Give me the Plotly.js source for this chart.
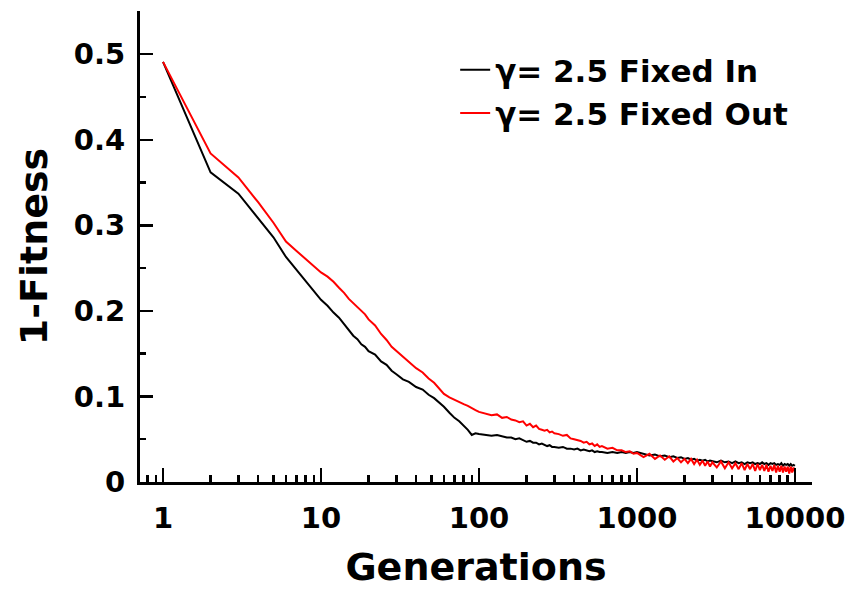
<!DOCTYPE html>
<html>
<head>
<meta charset="utf-8">
<script src="https://cdn.plot.ly/plotly-3.0.1.min.js"></script>
<style>html,body{margin:0;padding:0;background:#fff;}#chart{width:852px;height:590px;}</style>
</head>
<body>
<div id="chart"></div>
<script>
// Generations (x values)
const generations = [
  1,2,3,4,5,6,7,8,9,10,11,12,13,14,15,16,17,18,19,20,
  22,24,26,28,30,33,36,40,44,48,52,56,60,65,70,75,80,85,90,95,100,
  110,120,130,140,150,160,170,180,190,200,210,220,230,240,250,260,270,280,290,300,
  320,340,360,380,400,420,440,460,480,500,520,540,560,580,600,
  650,700,750,800,850,900,950,1000,
  1100,1200,1300,1400,1500,1600,1700,1800,1900,2000,2100,2200,2300,2400,2500,2600,2700,2800,2900,3000,
  3200,3400,3600,3800,4000,4200,4400,4600,4800,5000,5200,5400,5600,5800,6000,6200,6400,6600,6800,7000,
  7200,7400,7600,7800,8000,8200,8400,8600,8800,9000,9200,9400,9600,9800,10000
];

// 1-Fitness, gamma = 2.5 Fixed In (black)
const fixedIn = [
  0.491,0.362,0.337,0.308,0.286,0.263,0.248,0.234,0.223,0.213,0.206,0.198,0.192,0.184,0.177,0.171,0.167,0.161,0.158,0.153,
  0.149,0.141,0.137,0.130,0.126,0.120,0.117,0.111,0.108,0.102,0.098,0.093,0.088,0.081,0.075,0.071,0.066,0.061,0.055,0.057,0.056,
  0.055,0.054,0.055,0.053,0.052,0.052,0.050,0.051,0.049,0.047,0.048,0.046,0.046,0.044,0.045,0.043,0.042,0.043,0.041,0.041,
  0.040,0.041,0.039,0.039,0.038,0.039,0.037,0.038,0.037,0.036,0.037,0.035,0.036,0.035,0.035,
  0.034,0.035,0.034,0.035,0.034,0.035,0.034,0.035,
  0.033,0.031,0.032,0.030,0.031,0.029,0.030,0.028,0.029,0.027,0.028,0.026,0.027,0.025,0.026,0.025,0.026,0.024,0.025,0.024,
  0.023,0.025,0.023,0.024,0.022,0.024,0.022,0.023,0.021,0.023,0.022,0.023,0.021,0.022,0.021,0.023,0.021,0.022,0.020,0.022,
  0.021,0.022,0.020,0.021,0.020,0.022,0.019,0.021,0.020,0.021,0.019,0.021,0.019,0.020,0.019
];

// 1-Fitness, gamma = 2.5 Fixed Out (red)
const fixedOut = [
  0.491,0.384,0.356,0.327,0.303,0.281,0.270,0.261,0.253,0.245,0.240,0.234,0.227,0.221,0.214,0.209,0.204,0.199,0.196,0.190,
  0.183,0.173,0.166,0.158,0.153,0.147,0.140,0.133,0.128,0.121,0.116,0.109,0.103,0.099,0.096,0.093,0.091,0.089,0.086,0.084,0.082,
  0.080,0.078,0.079,0.075,0.076,0.073,0.072,0.070,0.071,0.066,0.068,0.064,0.066,0.062,0.061,0.060,0.061,0.058,0.059,0.057,
  0.056,0.054,0.055,0.051,0.050,0.049,0.048,0.046,0.047,0.044,0.045,0.042,0.044,0.041,0.042,
  0.039,0.040,0.037,0.037,0.035,0.036,0.033,0.034,
  0.029,0.033,0.027,0.031,0.026,0.030,0.024,0.028,0.023,0.027,0.022,0.027,0.021,0.026,0.020,0.025,0.019,0.024,0.018,0.023,
  0.017,0.024,0.016,0.023,0.016,0.022,0.015,0.022,0.014,0.021,0.015,0.021,0.013,0.021,0.014,0.020,0.013,0.020,0.012,0.019,
  0.013,0.020,0.011,0.019,0.012,0.019,0.011,0.018,0.012,0.018,0.010,0.018,0.011,0.017,0.012
];

const seriesNames = ['\u03b3= 2.5 Fixed In', '\u03b3= 2.5 Fixed Out'];
const xTickVals = [1, 10, 100, 1000, 10000];
const xTickText = ['1', '10', '100', '1000', '10000'];
const yTickVals = [0, 0.1, 0.2, 0.3, 0.4, 0.5];
const yTickText = ['0', '0.1', '0.2', '0.3', '0.4', '0.5'];

const FONT = 'DejaVu Sans, Liberation Sans, Arial, sans-serif';

const traces = [
  {x: generations, y: fixedIn, name: seriesNames[0], type: 'scatter', mode: 'lines',
   line: {color: '#000000', width: 2}},
  {x: generations, y: fixedOut, name: seriesNames[1], type: 'scatter', mode: 'lines',
   line: {color: '#ff0000', width: 2}}
];

const layout = {
  width: 852, height: 590,
  margin: {l: 140, r: 40, t: 11, b: 108},
  paper_bgcolor: '#ffffff', plot_bgcolor: '#ffffff',
  font: {family: FONT, color: '#000', weight: 'bold'},
  showlegend: true,
  legend: {x: 0.469, y: 0.932, xanchor: 'left', yanchor: 'top',
           font: {family: FONT, size: 31, weight: 'bold', color: '#000'},
           bgcolor: 'rgba(0,0,0,0)', borderwidth: 0},
  xaxis: {
    type: 'log', range: [Math.log10(0.715), Math.log10(12820)],
    showline: true, linewidth: 3, linecolor: '#000', mirror: false,
    showgrid: false, zeroline: false,
    ticks: 'inside', ticklen: 14, tickwidth: 2.5, tickcolor: '#000',
    tickvals: xTickVals, ticktext: xTickText,
    tickfont: {family: FONT, size: 29, weight: 'bold'},
    ticklabelstandoff: 8,
    minor: {ticks: 'inside', ticklen: 7, tickwidth: 2.5, tickcolor: '#000', dtick: 'D1', showgrid: false},
    title: {text: 'Generations', font: {family: FONT, size: 38, weight: 'bold'}, standoff: 20},
    automargin: false
  },
  yaxis: {
    range: [0, 0.5505],
    showline: true, linewidth: 3, linecolor: '#000', mirror: false,
    showgrid: false, zeroline: false,
    ticks: 'inside', ticklen: 13, tickwidth: 2.5, tickcolor: '#000',
    tickvals: yTickVals, ticktext: yTickText,
    tickfont: {family: FONT, size: 29, weight: 'bold'},
    ticklabelstandoff: 6,
    minor: {ticks: 'inside', ticklen: 6, tickwidth: 2.5, tickcolor: '#000', dtick: 0.05, showgrid: false},
    title: {text: '1-Fitness', font: {family: FONT, size: 38, weight: 'bold'}, standoff: 15},
    automargin: false
  }
};

Plotly.newPlot('chart', traces, layout, {displayModeBar: false, staticPlot: true});
</script>
</body>
</html>
